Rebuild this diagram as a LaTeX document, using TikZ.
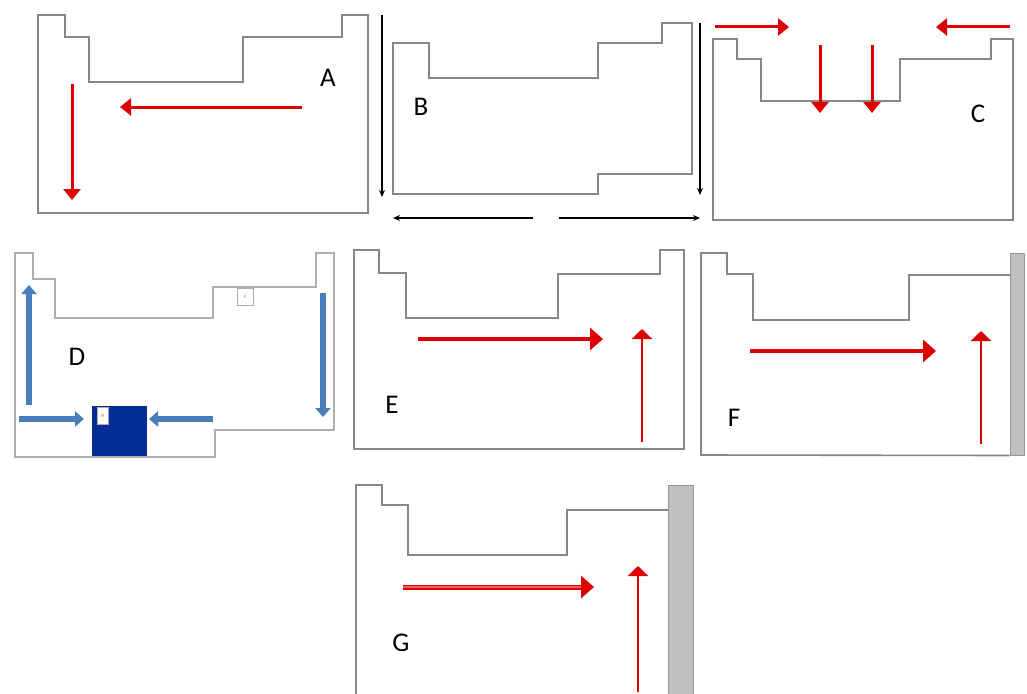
\documentclass[tikz,border=0pt]{standalone}
\usepackage{fontspec}
\setmainfont{Carlito}
\usetikzlibrary{arrows.meta}
\definecolor{ptgray}{RGB}{135,135,135}
\definecolor{ltgray}{RGB}{175,175,175}
\definecolor{arrred}{RGB}{222,0,0}
\definecolor{pinkred}{RGB}{238,95,95}
\definecolor{dblue}{RGB}{5,45,150}
\definecolor{sblue}{RGB}{74,126,187}
\definecolor{bargray}{RGB}{192,192,192}
\definecolor{bargrayd}{RGB}{150,150,150}
\begin{document}
\begin{tikzpicture}[x=1pt,y=-1pt,
  tbl/.style={draw=ptgray,line width=1.6pt,line join=miter},
  tblD/.style={draw=ltgray,line width=1.1pt},
  lbl/.style={font=\fontsize{27}{27}\selectfont,text=black,inner sep=0pt},
  redarr/.style={draw=arrred,line width=3pt,-{Triangle[width=17pt,length=11pt]}},
  redthick/.style={draw=arrred,line width=4.5pt,-{Triangle[width=22pt,length=13pt]}},
  redthin/.style={draw=arrred,line width=2.8pt,-{Triangle[width=20pt,length=10pt]}},
  bluearr/.style={draw=sblue,line width=6pt,-{Triangle[width=15pt,length=9pt]}},
  blackarr/.style={draw=black,line width=1.3pt,-{Stealth[width=6pt,length=7pt]}},
  bar/.style={fill=bargray,draw=bargrayd,line width=1pt}]
\useasboundingbox (0,0) rectangle (1027,693);
\fill[white] (0,0) rectangle (1027,693);

% ---------- Panel A ----------
\draw[tbl] (38,15) -- (65,15) -- (65,37) -- (89,37) -- (89,82) -- (243,82) -- (243,37)
  -- (342,37) -- (342,15) -- (368,15) -- (368,213) -- (38,213) -- cycle;
\node[lbl] (labA) at (328,78) {A};
\coordinate (a1s) at (302,107); \coordinate (a1e) at (120,107);
\coordinate (a2s) at (72,84);   \coordinate (a2e) at (72,200);
\draw[redarr] (a1s) -- (a1e);
\draw[redarr] (a2s) -- (a2e);

% ---------- Panel B ----------
\draw[tbl] (393,43) -- (429,43) -- (429,78) -- (598,78) -- (598,43) -- (662,43) -- (662,23)
  -- (692,23) -- (692,174) -- (598,174) -- (598,194) -- (393,194) -- cycle;
\node[lbl] (labB) at (421,107) {B};
\coordinate (b1s) at (382,15);  \coordinate (b1e) at (382,197);
\coordinate (b2s) at (700,23);  \coordinate (b2e) at (700,195);
\coordinate (b3s) at (533,218); \coordinate (b3e) at (393,218);
\coordinate (b4s) at (559,218); \coordinate (b4e) at (700,218);
\draw[blackarr] (b1s) -- (b1e);
\draw[blackarr] (b2s) -- (b2e);
\draw[blackarr] (b3s) -- (b3e);
\draw[blackarr] (b4s) -- (b4e);

% ---------- Panel C ----------
\draw[tbl] (713,39) -- (737,39) -- (737,59) -- (761,59) -- (761,101) -- (900,101) -- (900,59)
  -- (991,59) -- (991,39) -- (1013,39) -- (1013,220) -- (713,220) -- cycle;
\node[lbl] (labC) at (978,114) {C};
\coordinate (c1s) at (715,27);  \coordinate (c1e) at (789,27);
\coordinate (c2s) at (1010,27); \coordinate (c2e) at (936,27);
\coordinate (c3s) at (820,45);  \coordinate (c3e) at (820,113);
\coordinate (c4s) at (872,45);  \coordinate (c4e) at (872,113);
\draw[redarr] (c1s) -- (c1e);
\draw[redarr] (c2s) -- (c2e);
\draw[redarr] (c3s) -- (c3e);
\draw[redarr] (c4s) -- (c4e);

% ---------- Panel D ----------
\draw[tblD] (15,253) -- (33,253) -- (33,279) -- (55,279) -- (55,318) -- (213,318) -- (213,287)
  -- (316,287) -- (316,253) -- (334,253) -- (334,430) -- (215,430) -- (215,457) -- (15,457) -- cycle;
\node[draw=ltgray,line width=0.8pt,minimum width=16pt,minimum height=17pt,inner sep=0pt,
  font=\fontsize{5}{5}\selectfont,text=gray] (smallbox) at (245,296.5) {F};
\node[fill=dblue,minimum width=55pt,minimum height=50pt,inner sep=0pt] (bluesq) at (119.5,431) {};
\node[fill=white,draw=ltgray,line width=0.5pt,minimum width=11pt,minimum height=17pt,inner sep=0pt,
  font=\fontsize{5}{5}\selectfont,text=gray] (innerbox) at (102.5,416) {H};
\node[lbl] (labD) at (77,357) {D};
\coordinate (d1s) at (29,405);  \coordinate (d1e) at (29,285);
\coordinate (d2s) at (19,419);  \coordinate (d2e) at (84,419);
\coordinate (d3s) at (213,419); \coordinate (d3e) at (149,419);
\coordinate (d4s) at (323,293); \coordinate (d4e) at (323,417);
\draw[bluearr] (d1s) -- (d1e);
\draw[bluearr] (d2s) -- (d2e);
\draw[bluearr] (d3s) -- (d3e);
\draw[bluearr] (d4s) -- (d4e);

% ---------- Panel E ----------
\draw[tbl] (354,250) -- (379,250) -- (379,273) -- (406,273) -- (406,318) -- (558,318) -- (558,274)
  -- (660,274) -- (660,250) -- (684,250) -- (684,449) -- (354,449) -- cycle;
\node[lbl] (labE) at (392,405) {E};
\coordinate (e1s) at (418,339); \coordinate (e1e) at (603,339);
\coordinate (e2s) at (642,442); \coordinate (e2e) at (642,329);
\draw[redthick] (e1s) -- (e1e);
\draw[redthin] (e2s) -- (e2e);

% ---------- Panel F ----------
\node[bar,minimum width=14pt,minimum height=202pt,inner sep=0pt] (barF) at (1017,354) {};
\draw[tbl] (barF.south west) -- (701,455) -- (701,253) -- (727,253) -- (727,274) -- (753,274)
  -- (753,320) -- (909,320) -- (909,275) -- (1010,275);
\node[lbl] (labF) at (734,418) {F};
\coordinate (f1s) at (750,351); \coordinate (f1e) at (936,351);
\coordinate (f2s) at (981,444); \coordinate (f2e) at (981,331);
\draw[redthick] (f1s) -- (f1e);
\draw[redthin] (f2s) -- (f2e);

% ---------- Panel G ----------
\node[bar,minimum width=25pt,minimum height=210pt,inner sep=0pt] (barG) at (680.5,590) {};
\draw[tbl] (356,695) -- (356,485) -- (382,485) -- (382,505) -- (408,505) -- (408,555) -- (567,555)
  -- (567,510) -- (668,510);
\node[lbl] (labG) at (401,643) {G};
\coordinate (g1s) at (403,587); \coordinate (g1e) at (594,587);
\coordinate (g2s) at (638,692); \coordinate (g2e) at (638,566);
\draw[redthick,line width=5pt] (g1s) -- (g1e);
\draw[pinkred,line width=2.6pt,shorten >=13pt] (g1s) -- (g1e);
\draw[redthin] (g2s) -- (g2e);
\end{tikzpicture}
\end{document}
